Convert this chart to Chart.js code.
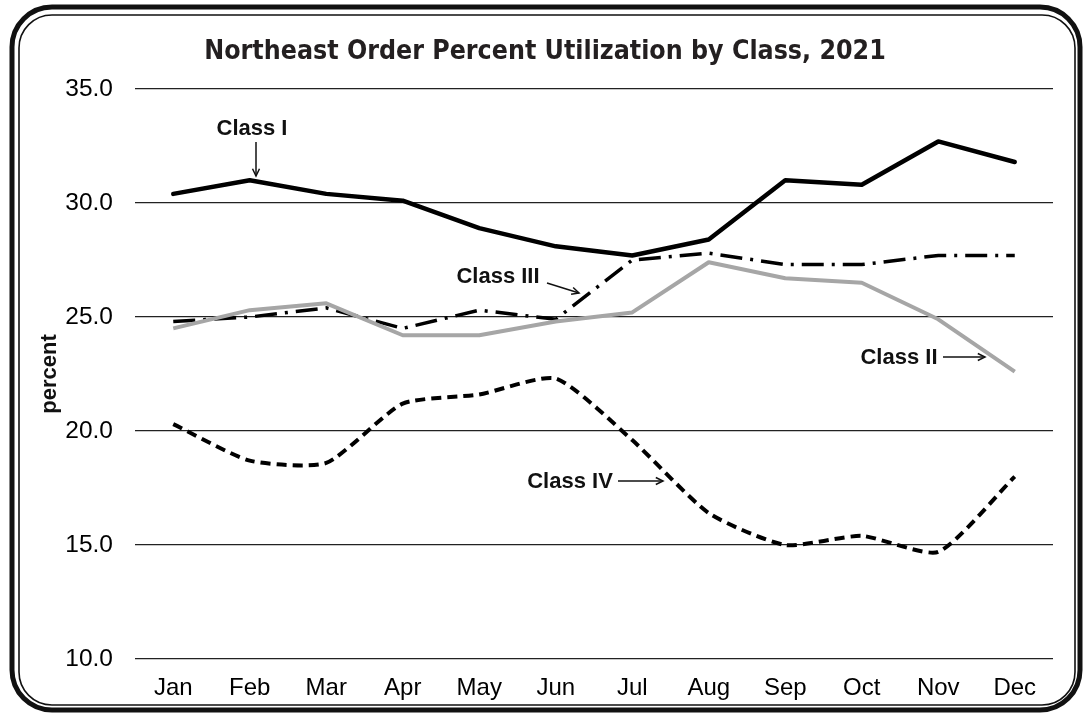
<!DOCTYPE html>
<html>
<head>
<meta charset="utf-8">
<script src="https://cdn.jsdelivr.net/npm/chart.js@4/dist/chart.umd.min.js"></script>
<style>
  html, body { margin: 0; padding: 0; background: #ffffff; }
  #wrap { width: 1091px; height: 717px; position: relative; }
</style>
</head>
<body>
<div id="wrap"><canvas id="c" width="1091" height="717"></canvas></div>
<script>
// ---- Data ----
const months = ["Jan","Feb","Mar","Apr","May","Jun","Jul","Aug","Sep","Oct","Nov","Dec"];
const classI   = [30.4, 31.0, 30.4, 30.1, 28.9, 28.1, 27.7, 28.4, 31.0, 30.8, 32.7, 31.8];
const classII  = [24.5, 25.3, 25.6, 24.2, 24.2, 24.8, 25.2, 27.4, 26.7, 26.5, 24.9, 22.6];
const classIII = [24.8, 25.0, 25.4, 24.5, 25.3, 24.9, 27.5, 27.8, 27.3, 27.3, 27.7, 27.7];
const classIV  = [20.3, 18.7, 18.6, 21.2, 21.6, 22.3, 19.6, 16.4, 15.0, 15.4, 14.7, 18.0];
const yTicks   = [10, 15, 20, 25, 30, 35];
const chartTitle = "Northeast Order Percent Utilization by Class, 2021";
const yTitle = "percent";

// ---- Annotation texts (positions are layout only) ----
const notes = [
  { text: "Class I",   tx: 252, ty: 129, align: "center", ax1: 256, ay1: 142, ax2: 256, ay2: 176 },
  { text: "Class III", tx: 498, ty: 277, align: "center", ax1: 547, ay1: 283, ax2: 579, ay2: 293 },
  { text: "Class II",  tx: 899, ty: 358, align: "center", ax1: 943, ay1: 357, ax2: 985, ay2: 357 },
  { text: "Class IV",  tx: 570, ty: 482, align: "center", ax1: 618, ay1: 481, ax2: 663, ay2: 481 }
];

function roundRect(ctx, x1, y1, x2, y2, r) {
  ctx.beginPath();
  ctx.moveTo(x1 + r, y1);
  ctx.lineTo(x2 - r, y1);
  ctx.arcTo(x2, y1, x2, y1 + r, r);
  ctx.lineTo(x2, y2 - r);
  ctx.arcTo(x2, y2, x2 - r, y2, r);
  ctx.lineTo(x1 + r, y2);
  ctx.arcTo(x1, y2, x1, y2 - r, r);
  ctx.lineTo(x1, y1 + r);
  ctx.arcTo(x1, y1, x1 + r, y1, r);
  ctx.closePath();
}

const framePlugin = {
  id: "frame",
  beforeDraw(chart) {
    const ctx = chart.ctx;
    ctx.save();
    ctx.fillStyle = "#ffffff";
    ctx.fillRect(0, 0, chart.width, chart.height);
    ctx.strokeStyle = "#111111";
    ctx.lineWidth = 5;
    roundRect(ctx, 12, 7, 1080, 710, 40);
    ctx.stroke();
    ctx.lineWidth = 1.6;
    roundRect(ctx, 19, 15, 1075, 705, 33);
    ctx.stroke();
    // title
    ctx.fillStyle = "#231f20";
    ctx.font = "bold 26.5px 'DejaVu Sans Condensed', 'DejaVu Sans', sans-serif";
    ctx.textAlign = "center";
    ctx.textBaseline = "middle";
    ctx.fillText(chartTitle, 545, 52);
    ctx.restore();
  }
};

function arrow(ctx, x1, y1, x2, y2) {
  ctx.beginPath();
  ctx.moveTo(x1, y1);
  ctx.lineTo(x2, y2);
  ctx.stroke();
  const a = Math.atan2(y2 - y1, x2 - x1);
  const L = 8, w = 0.45;
  ctx.beginPath();
  ctx.moveTo(x2 - L * Math.cos(a - w), y2 - L * Math.sin(a - w));
  ctx.lineTo(x2, y2);
  ctx.lineTo(x2 - L * Math.cos(a + w), y2 - L * Math.sin(a + w));
  ctx.stroke();
}

const notesPlugin = {
  id: "notes",
  afterDatasetsDraw(chart) {
    const ctx = chart.ctx;
    ctx.save();
    ctx.fillStyle = "#111111";
    ctx.strokeStyle = "#111111";
    ctx.lineWidth = 1.5;
    ctx.font = "bold 22px 'Liberation Sans', Arial, sans-serif";
    ctx.textBaseline = "middle";
    for (const n of notes) {
      ctx.textAlign = n.align;
      ctx.fillText(n.text, n.tx, n.ty);
      arrow(ctx, n.ax1, n.ay1, n.ax2, n.ay2);
    }
    ctx.restore();
  }
};

new Chart(document.getElementById("c"), {
  type: "line",
  data: {
    labels: months,
    datasets: [
      { label: "Class I", data: classI, borderColor: "#000000", borderWidth: 4.5, pointRadius: 0, tension: 0, borderJoinStyle: "round", borderCapStyle: "round" },
      { label: "Class II", data: classII, borderColor: "#a6a6a6", borderWidth: 4, pointRadius: 0, tension: 0, borderJoinStyle: "round" },
      { label: "Class III", data: classIII, borderColor: "#000000", borderWidth: 3.5, pointRadius: 0, tension: 0, borderDash: [22, 8, 3, 8] },
      { label: "Class IV", data: classIV, borderColor: "#000000", borderWidth: 4, pointRadius: 0, tension: 0.2, borderDash: [10, 6] }
    ]
  },
  options: {
    responsive: false,
    animation: false,
    events: [],
    layout: { padding: { left: 22, right: 38, top: 89, bottom: 0 } },
    plugins: {
      legend: { display: false },
      tooltip: { enabled: false },
      title: { display: false }
    },
    scales: {
      x: {
        type: "category",
        offset: true,
        grid: { display: false, drawTicks: false },
        border: { display: false },
        ticks: { color: "#000000", font: { family: "'Liberation Sans', Arial, sans-serif", size: 24 }, padding: 15, maxRotation: 0, autoSkip: false },
        afterFit(scale) { scale.height = 58; }
      },
      y: {
        min: 10, max: 35,
        afterBuildTicks(scale) { scale.ticks = yTicks.map(v => ({ value: v })); },
        grid: { color: "#222222", lineWidth: 1.3, drawTicks: false },
        border: { display: false },
        ticks: { color: "#000000", font: { family: "'Liberation Sans', Arial, sans-serif", size: 24.5 }, padding: 22, callback: v => Number(v).toFixed(1) },
        title: { display: true, text: yTitle, color: "#111111", font: { family: "'Liberation Sans', Arial, sans-serif", size: 22, weight: "bold" }, padding: { top: 15, bottom: 0 } },
        afterFit(scale) { scale.width = 113; }
      }
    }
  },
  plugins: [framePlugin, notesPlugin]
});
</script>
</body>
</html>
